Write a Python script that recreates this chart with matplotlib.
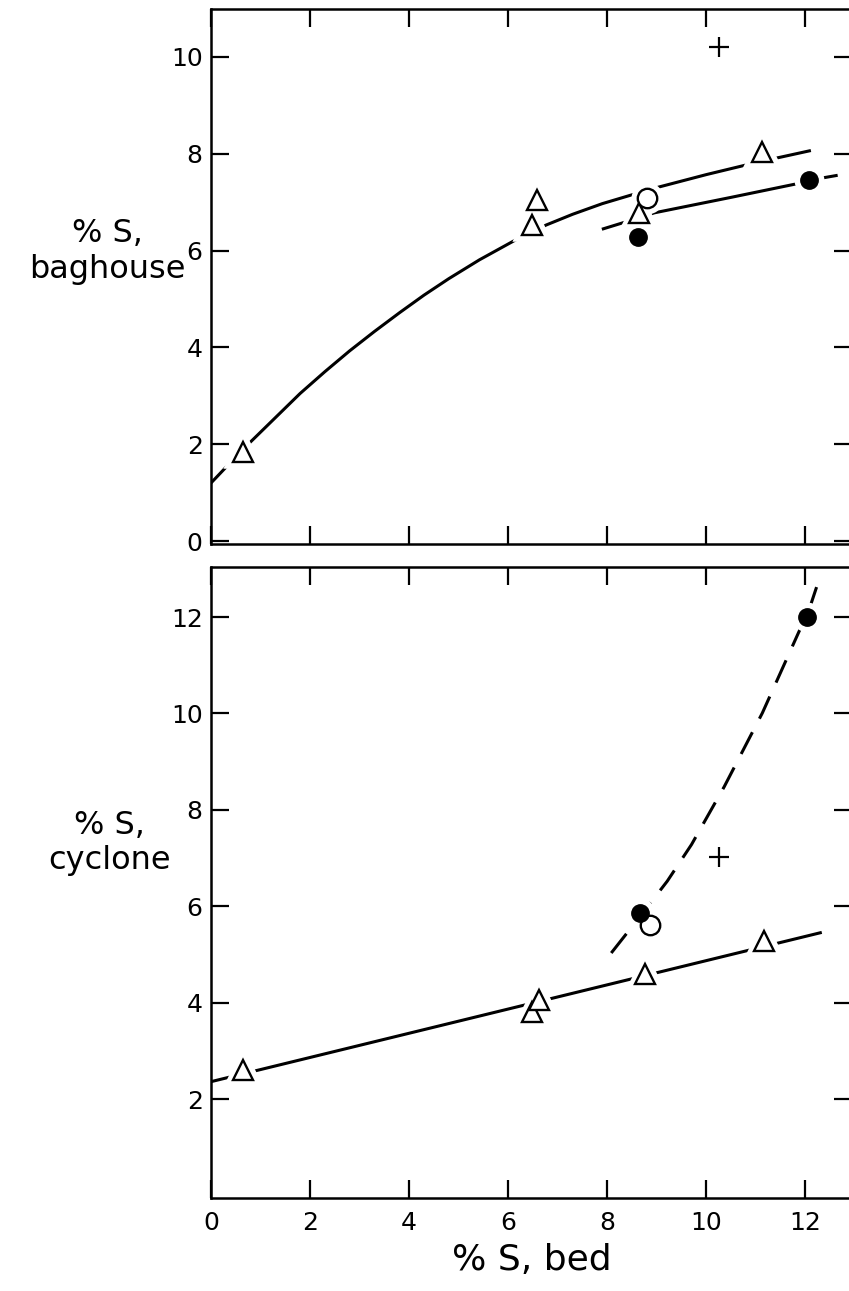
import matplotlib.pyplot as plt

# --- baghouse panel: %S in baghouse fines vs %S in bed ---
bag_tri_x = [0.65, 6.47, 6.59, 8.65, 11.13]
bag_tri_y = [1.84, 6.53, 7.05, 6.78, 8.04]
bag_open_x = [8.81]
bag_open_y = [7.09]
bag_solid_x = [8.61, 12.08]
bag_solid_y = [6.28, 7.46]
bag_plus_x = [10.26]
bag_plus_y = [10.2]

# hand drawn trend curves
bag_upper_x = [0, 0.65, 1.2, 1.8, 2.3, 2.8, 3.3, 3.81, 4.3, 4.8, 5.42, 6.13, 6.47,
               6.77, 7.3, 7.9, 8.49, 8.81, 9.03, 10.0, 10.97, 11.13, 11.5, 12.08]
bag_upper_y = [1.2, 1.9, 2.45, 3.05, 3.5, 3.93, 4.33, 4.72, 5.08, 5.42, 5.81, 6.21, 6.38,
               6.53, 6.75, 6.97, 7.15, 7.23, 7.31, 7.57, 7.81, 7.85, 7.93, 8.06]
bag_lower_x = [7.92, 8.65, 8.95, 10.5, 11.92, 12.08, 12.34, 12.62]
bag_lower_y = [6.45, 6.68, 6.78, 7.1, 7.4, 7.46, 7.5, 7.55]

# --- cyclone panel: %S in cyclone fines vs %S in bed ---
cyc_tri_x = [0.65, 6.49, 6.63, 8.77, 11.17]
cyc_tri_y = [2.6, 3.8, 4.05, 4.59, 5.28]
cyc_open_x = [8.87]
cyc_open_y = [5.61]
cyc_solid_x = [8.67, 12.04]
cyc_solid_y = [5.86, 12.0]
cyc_plus_x = [10.26]
cyc_plus_y = [7.02]

cyc_line_x = [0, 12.3]
cyc_line_y = [2.36, 5.45]
cyc_dash_x = [8.08, 8.67, 9.21, 9.7, 10.36, 11.13, 11.87, 12.04, 12.24]
cyc_dash_y = [5.03, 5.8, 6.52, 7.28, 8.48, 10.01, 11.7, 12.05, 12.67]

x_ticks = [0, 2, 4, 6, 8, 10, 12]

plt.rcParams['font.family'] = ['DejaVu Sans']

fig = plt.figure(figsize=(8.49, 12.91), dpi=100)
W, H = 849, 1291
ax1 = fig.add_axes([211 / W, 1 - 544 / H, 641 / W, 535 / H])
ax2 = fig.add_axes([211 / W, 1 - 1198 / H, 641 / W, 631 / H])

lw = 2.2


def draw_points(ax, tx, ty, ox, oy, sx, sy, px, py):
    # white knock-out under each symbol so the curves stop short of it
    for xs, ys, m, ms in [(tx, ty, '^', 14), (ox, oy, 'o', 14), (sx, sy, 'o', 12.5)]:
        ax.plot(xs, ys, ls='none', marker=m, ms=ms, mfc='white', mec='white',
                mew=9, zorder=3)
    ax.plot(tx, ty, ls='none', marker='^', ms=14, mfc='white', mec='black',
            mew=1.7, zorder=4)
    ax.plot(ox, oy, ls='none', marker='o', ms=14, mfc='white', mec='black',
            mew=1.7, zorder=4)
    ax.plot(sx, sy, ls='none', marker='o', ms=12.5, mfc='black', mec='black',
            zorder=5)
    ax.plot(px, py, ls='none', marker='+', ms=15, mec='black', mew=1.6, zorder=4)


def style_axes(ax, ylim, yticks, ylabels):
    ax.set_xlim(0, 12.94)
    ax.set_ylim(*ylim)
    ax.set_xticks(x_ticks)
    ax.set_yticks(yticks)
    ax.set_yticklabels(ylabels)
    ax.tick_params(direction='in', top=True, right=True, length=13, width=1.6,
                   labelsize=18, pad=6)
    for side in ['left', 'bottom', 'top']:
        ax.spines[side].set_linewidth(1.8)
    ax.spines['right'].set_visible(False)


# baghouse
ax1.plot(bag_upper_x, bag_upper_y, color='black', lw=lw, zorder=2)
ax1.plot(bag_lower_x, bag_lower_y, color='black', lw=lw, zorder=2)
draw_points(ax1, bag_tri_x, bag_tri_y, bag_open_x, bag_open_y,
            bag_solid_x, bag_solid_y, bag_plus_x, bag_plus_y)
style_axes(ax1, (-0.06, 10.99), [0, 2, 4, 6, 8, 10], ['0', '2', '4', '6', '8', '10'])
ax1.tick_params(labelbottom=False)
ax1.set_ylabel('% S,\nbaghouse', rotation=0, fontsize=23, ha='center', va='center',
               multialignment='center')
ax1.yaxis.set_label_coords(-0.162, 0.546)

# cyclone
ax2.plot(cyc_line_x, cyc_line_y, color='black', lw=lw, zorder=2)
ax2.plot(cyc_dash_x, cyc_dash_y, color='black', lw=lw, dashes=(8, 5), zorder=2)
draw_points(ax2, cyc_tri_x, cyc_tri_y, cyc_open_x, cyc_open_y,
            cyc_solid_x, cyc_solid_y, cyc_plus_x, cyc_plus_y)
style_axes(ax2, (-0.054, 13.04), [2, 4, 6, 8, 10, 12], ['2', '4', '6', '8', '10', '12'])
ax2.tick_params(axis='x', pad=9)
ax2.set_ylabel('% S,\ncyclone', rotation=0, fontsize=23, ha='center', va='center',
               multialignment='center')
ax2.yaxis.set_label_coords(-0.158, 0.5626)
ax2.set_xlabel('% S, bed', fontsize=26, labelpad=6)

fig.savefig('out.png', dpi=100)
